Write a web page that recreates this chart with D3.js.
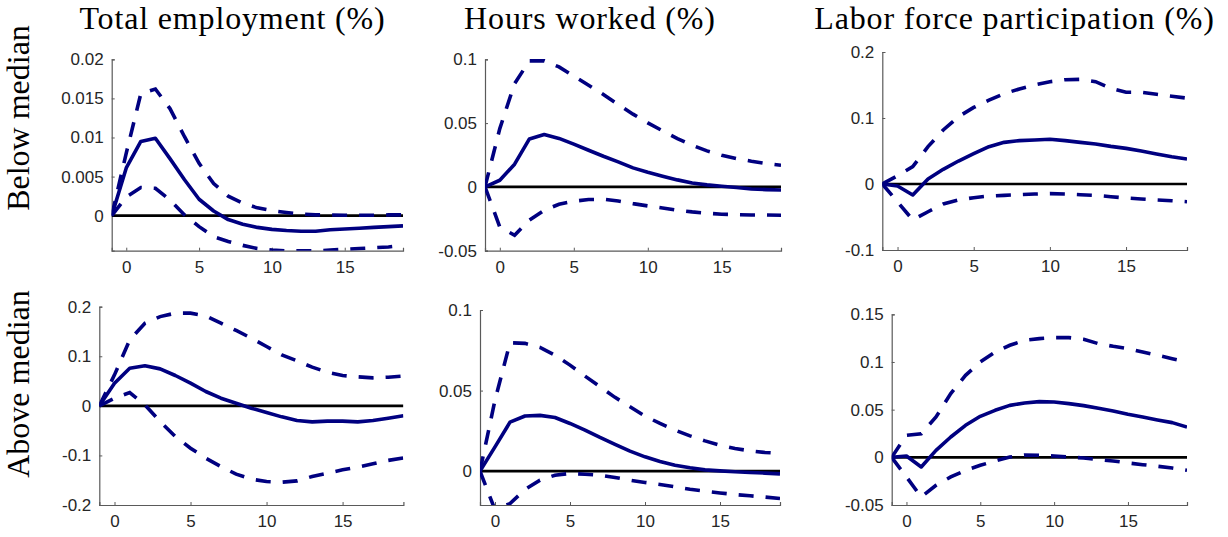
<!DOCTYPE html>
<html>
<head>
<meta charset="utf-8">
<script src="https://cdn.jsdelivr.net/npm/d3@7"></script>
<style>
  body { margin: 0; background: #fff; }
  svg { display: block; }
</style>
</head>
<body>
<svg id="fig" width="1228" height="537"></svg>
<script>
// Impulse-response horizons (periods after the shock)
const horizon = [-1, 0, 1, 2, 3, 4, 5, 6, 7, 8, 9, 10, 11, 12, 13, 14, 15, 16, 17, 18, 19];
const xTicks = [0, 5, 10, 15];

const columnTitles = ["Total employment (%)", "Hours worked (%)", "Labor force participation (%)"];
const rowTitles = ["Below median", "Above median"];

// Below median: total employment
const empBelowIRF   = [0, 0.0061, 0.0095, 0.0099, 0.0073, 0.0046, 0.0021, 0.0006, -0.0005, -0.0011, -0.0015, -0.00175, -0.0019, -0.002, -0.002, -0.0018, -0.0017, -0.0016, -0.0015, -0.0014, -0.0013];
const empBelowUpper = [0, 0.0080, 0.0156, 0.0162, 0.0137, 0.0101, 0.0067, 0.0041, 0.0025, 0.0016, 0.0010, 0.00064, 0.0004, 0.0002, 0.0001, 0.0001, 0.00005, 0.00005, 0.00005, 0.0001, 0.0001];
const empBelowLower = [0, 0.0024, 0.0036, 0.0035, 0.0020, 0.0001, -0.0014, -0.0027, -0.0033, -0.0038, -0.0042, -0.0044, -0.0045, -0.0045, -0.0045, -0.0044, -0.0043, -0.0042, -0.0041, -0.0040, -0.0038];

// Below median: hours worked
const hoursBelowIRF   = [0, 0.0052, 0.0178, 0.0376, 0.0410, 0.0380, 0.0335, 0.0287, 0.0240, 0.0196, 0.0149, 0.0115, 0.0084, 0.0055, 0.0031, 0.0016, 0.0005, -0.0005, -0.0016, -0.0021, -0.0024];
const hoursBelowUpper = [0, 0.0457, 0.0810, 0.0988, 0.0988, 0.0940, 0.0868, 0.0797, 0.0724, 0.0646, 0.0570, 0.0502, 0.0439, 0.0379, 0.0327, 0.0282, 0.0248, 0.0222, 0.0201, 0.0183, 0.0170];
const hoursBelowLower = [0, -0.0314, -0.0379, -0.0261, -0.0183, -0.0136, -0.0112, -0.0099, -0.0097, -0.0110, -0.0131, -0.0149, -0.0165, -0.0183, -0.0196, -0.0206, -0.0214, -0.0217, -0.0220, -0.0220, -0.0222];

// Below median: labor force participation
const lfpBelowIRF   = [0, -0.003, -0.0167, 0.0076, 0.0222, 0.0348, 0.0460, 0.0566, 0.0631, 0.0657, 0.0667, 0.0677, 0.0657, 0.0631, 0.0606, 0.0570, 0.0540, 0.0500, 0.0455, 0.0414, 0.0379];
const lfpBelowUpper = [0, 0.0126, 0.0263, 0.0566, 0.0818, 0.1020, 0.1160, 0.1270, 0.1370, 0.1440, 0.1500, 0.1550, 0.1580, 0.1586, 0.1550, 0.1450, 0.1390, 0.1390, 0.1360, 0.1330, 0.1300];
const lfpBelowLower = [0, -0.0270, -0.0545, -0.0420, -0.0303, -0.0242, -0.0207, -0.0182, -0.0172, -0.0162, -0.0152, -0.0146, -0.0152, -0.0162, -0.0172, -0.0192, -0.0212, -0.0227, -0.0242, -0.0253, -0.0268];

// Above median: total employment
const empAboveIRF   = [0, 0.0457, 0.0760, 0.0807, 0.0746, 0.0612, 0.0457, 0.0289, 0.0155, 0.0054, -0.0047, -0.0134, -0.0222, -0.0296, -0.0323, -0.0309, -0.0309, -0.0323, -0.0296, -0.0249, -0.0200];
const empAboveUpper = [0, 0.0625, 0.1330, 0.1667, 0.1800, 0.1870, 0.1870, 0.1815, 0.1667, 0.1520, 0.1365, 0.1197, 0.1029, 0.0908, 0.0780, 0.0679, 0.0612, 0.0585, 0.0565, 0.0578, 0.0600];
const empAboveLower = [0, 0.0155, 0.0269, 0.0020, -0.0316, -0.0618, -0.0854, -0.1055, -0.1224, -0.1378, -0.1479, -0.1526, -0.1540, -0.1513, -0.1425, -0.1358, -0.1290, -0.1237, -0.1170, -0.1100, -0.1050];

// Above median: hours worked
const hoursAboveIRF   = [0, 0.0151, 0.0304, 0.0342, 0.0346, 0.0333, 0.0296, 0.0255, 0.0209, 0.0166, 0.0124, 0.0089, 0.0060, 0.0037, 0.0021, 0.0008, 0.0002, -0.0004, -0.0008, -0.0012, -0.0017];
const hoursAboveUpper = [0, 0.0441, 0.0797, 0.0793, 0.0768, 0.0720, 0.0658, 0.0590, 0.0524, 0.0458, 0.0400, 0.0342, 0.0296, 0.0255, 0.0219, 0.0188, 0.0161, 0.0141, 0.0126, 0.0116, 0.0110];
const hoursAboveLower = [0, -0.0240, -0.0201, -0.0114, -0.0056, -0.0025, -0.0014, -0.0019, -0.0025, -0.0039, -0.0056, -0.0070, -0.0083, -0.0097, -0.0112, -0.0124, -0.0135, -0.0145, -0.0153, -0.0161, -0.0170];

// Above median: labor force participation
const lfpAboveIRF   = [0, 0.0014, -0.0101, 0.0073, 0.0213, 0.0336, 0.0430, 0.0493, 0.0545, 0.0570, 0.0584, 0.0580, 0.0563, 0.0542, 0.0514, 0.0486, 0.0451, 0.0423, 0.0392, 0.0364, 0.0318];
const lfpAboveUpper = [0, 0.0231, 0.0248, 0.0423, 0.0668, 0.0860, 0.1000, 0.1105, 0.1175, 0.1227, 0.1245, 0.1255, 0.1255, 0.1238, 0.1192, 0.1164, 0.1140, 0.1105, 0.1070, 0.1035, 0.1000];
const lfpAboveLower = [0, -0.0206, -0.0416, -0.0294, -0.0206, -0.0136, -0.0084, -0.0038, 0.0003, 0.0024, 0.0021, 0.0014, 0.0003, -0.0007, -0.0024, -0.0038, -0.0059, -0.0077, -0.0094, -0.0112, -0.0136];

// Y-axis ranges and ticks per panel
const empBelowDomain = [-0.00448, 0.02],  empBelowTicks = [0, 0.005, 0.01, 0.015, 0.02];
const hoursBelowDomain = [-0.05, 0.1],    hoursBelowTicks = [-0.05, 0, 0.05, 0.1];
const lfpBelowDomain = [-0.1, 0.2],       lfpBelowTicks = [-0.1, 0, 0.1, 0.2];
const empAboveDomain = [-0.2, 0.2],       empAboveTicks = [-0.2, -0.1, 0, 0.1, 0.2];
const hoursAboveDomain = [-0.021, 0.1],   hoursAboveTicks = [0, 0.05, 0.1];
const lfpAboveDomain = [-0.05, 0.15],     lfpAboveTicks = [-0.05, 0, 0.05, 0.1, 0.15];

// Panel layout: plot-area edges in pixels
const panels = [
  { irf: empBelowIRF,   up: empBelowUpper,   lo: empBelowLower,   dom: empBelowDomain,   ticks: empBelowTicks,   box: [111.7, 403, 59.3, 250.7] },
  { irf: hoursBelowIRF, up: hoursBelowUpper, lo: hoursBelowLower, dom: hoursBelowDomain, ticks: hoursBelowTicks, box: [485, 781, 59.3, 250.7] },
  { irf: lfpBelowIRF,   up: lfpBelowUpper,   lo: lfpBelowLower,   dom: lfpBelowDomain,   ticks: lfpBelowTicks,   box: [882.3, 1187, 52, 250] },
  { irf: empAboveIRF,   up: empAboveUpper,   lo: empAboveLower,   dom: empAboveDomain,   ticks: empAboveTicks,   box: [99.3, 403.4, 306.7, 505] },
  { irf: hoursAboveIRF, up: hoursAboveUpper, lo: hoursAboveLower, dom: hoursAboveDomain, ticks: hoursAboveTicks, box: [480, 780, 310, 505] },
  { irf: lfpAboveIRF,   up: lfpAboveUpper,   lo: lfpAboveLower,   dom: lfpAboveDomain,   ticks: lfpAboveTicks,   box: [891.7, 1187, 314.3, 505] }
];

const lineColor = "#000080";
const axisColor = "#5a5a5a";
const labelColor = "#262626";
const tickFont = "'Liberation Sans', Arial, Helvetica, sans-serif";
const titleFont = "'Liberation Serif', 'DejaVu Serif', serif";

const svg = d3.select("#fig");

panels.forEach((p, i) => {
  const [L, R, T, B] = p.box;
  const x = d3.scaleLinear().domain([-1, 19]).range([L, R]);
  const y = d3.scaleLinear().domain(p.dom).range([B, T]);

  const g = svg.append("g");
  const clipId = "clip" + i;
  g.append("clipPath").attr("id", clipId)
    .append("rect").attr("x", L).attr("y", T - 2).attr("width", R - L).attr("height", B - T + 2);

  // Y axis with inward ticks
  const yAxis = d3.axisLeft(y).tickValues(p.ticks).tickSize(-3).tickPadding(8)
    .tickFormat(d => String(d));
  const ya = g.append("g").attr("transform", `translate(${L},0)`).call(yAxis);

  // X axis with inward ticks
  const xAxis = d3.axisBottom(x).tickValues(xTicks).tickSize(-3).tickPadding(10)
    .tickFormat(d => String(d));
  const xa = g.append("g").attr("transform", `translate(0,${B})`).call(xAxis);

  [ya, xa].forEach(a => {
    a.select(".domain").attr("stroke", axisColor).attr("stroke-width", 1.2);
    a.selectAll(".tick line").attr("stroke", axisColor).attr("stroke-width", 1);
    a.selectAll(".tick text").attr("fill", labelColor)
      .style("font-family", tickFont).style("font-size", "17px");
  });

  const plot = g.append("g").attr("clip-path", `url(#${clipId})`);

  // Zero reference line
  plot.append("line")
    .attr("x1", x(-1)).attr("x2", x(19))
    .attr("y1", y(0)).attr("y2", y(0))
    .attr("stroke", "#000").attr("stroke-width", 2.6);

  const line = d3.line().x((d, k) => x(horizon[k])).y(d => y(d));

  // Confidence bands (dashed) and point estimate (solid)
  [p.up, p.lo].forEach(arr => {
    plot.append("path").datum(arr)
      .attr("d", line).attr("fill", "none")
      .attr("stroke", lineColor).attr("stroke-width", 3.6)
      .attr("stroke-dasharray", "15,12");
  });
  plot.append("path").datum(p.irf)
    .attr("d", line).attr("fill", "none")
    .attr("stroke", lineColor).attr("stroke-width", 3.6)
    .attr("stroke-linejoin", "round");
});

// Column titles
const titleCenters = [232.5, 590, 1014.5];
columnTitles.forEach((t, i) => {
  svg.append("text").text(t)
    .attr("x", titleCenters[i]).attr("y", 29)
    .attr("text-anchor", "middle")
    .attr("fill", "#000")
    .style("letter-spacing", "0.85px")
    .style("font-family", titleFont).style("font-size", "32px");
});

// Row titles (rotated)
const rowCenters = [118, 384];
rowTitles.forEach((t, i) => {
  svg.append("text").text(t)
    .attr("transform", `translate(29,${rowCenters[i]}) rotate(-90)`)
    .attr("text-anchor", "middle")
    .attr("fill", "#000")
    .style("font-family", titleFont).style("font-size", "32px");
});
</script>
</body>
</html>
